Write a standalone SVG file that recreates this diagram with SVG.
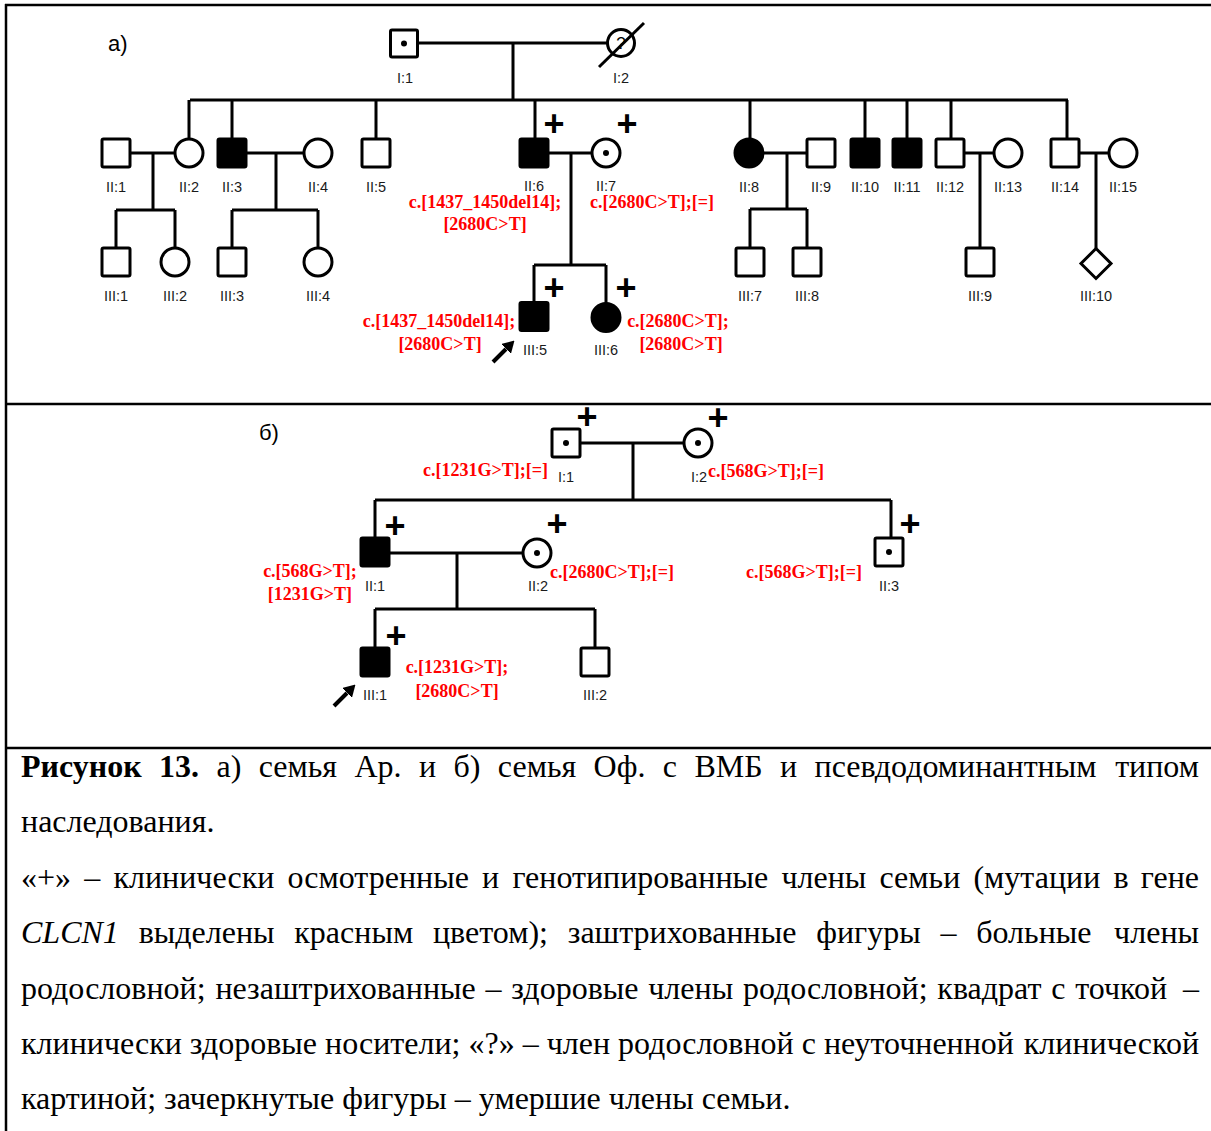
<svg xmlns="http://www.w3.org/2000/svg" width="1211" height="1131" viewBox="0 0 1211 1131">
<style>
.ln{stroke:#000;stroke-width:3;fill:none}
.sq,.ci{fill:#fff;stroke:#000;stroke-width:3}
.aff{fill:#000}
.dot{fill:#000;stroke:none}
.frame{stroke:#000;stroke-width:2.5}
.lbl{font-family:"Liberation Sans",Arial,sans-serif;font-size:14.5px;fill:#1a1a1a;text-anchor:middle}
.q{font-family:"Liberation Sans",Arial,sans-serif;font-size:17px;fill:#000;text-anchor:middle}
.mut{font-family:"Liberation Serif","Times New Roman",serif;font-size:18px;font-weight:bold;fill:#f00}
.mid{text-anchor:middle}
.plus{font-family:"Liberation Sans",Arial,sans-serif;font-size:36px;font-weight:bold;fill:#000;text-anchor:middle}
.sec{font-family:"Liberation Sans",Arial,sans-serif;font-size:22px;fill:#000}
.cap{font-family:"Liberation Serif","Times New Roman",serif;font-size:32px;fill:#000}
.arrow{stroke:#000;stroke-width:4;fill:none}
</style>
<defs>
<marker id="head" viewBox="0 -7 12 14" refX="0" refY="0" markerWidth="12" markerHeight="14" markerUnits="userSpaceOnUse" orient="auto"><path d="M0,-7 L12,0 L0,7 z" fill="#000"/></marker>
</defs>
<rect x="0" y="0" width="1211" height="1131" fill="#fff"/>
<g id="frame">
<line class="frame" x1="5" y1="5" x2="1211" y2="5"/>
<line class="frame" x1="6" y1="4" x2="6" y2="1131"/>
<line class="frame" x1="5" y1="404" x2="1211" y2="404"/>
<line class="frame" x1="5" y1="748" x2="1211" y2="748"/>
</g>
<text class="sec" x="108" y="51">а)</text>
<text class="sec" x="259" y="440">б)</text>

<g id="connectors">
<path class="ln" d="M418,43H607M513,43V100M190,100H1068"/>
<path class="ln" d="M189,100V139.5M232,100V139M376,100V139M535,100V139M750,100V139.5M865,100V139M907,100V139M951,100V139M1067,100V139"/>
<path class="ln" d="M130,153H175.5M153,153V210M116,210H175M116,210V248M175,210V248.5"/>
<path class="ln" d="M246,153H304.5M276,153V210M232,210H318M232,210V248M318,210V248.5"/>
<path class="ln" d="M548,153H592.5M571,153V265M534,265H606M534,265V302.5M606,265V303.5"/>
<path class="ln" d="M762.5,153H807M787,153V209M750,209H807M750,209V248M807,209V248"/>
<path class="ln" d="M964,153H994.5M980,153V248"/>
<path class="ln" d="M1079,153H1109.5M1096,153V248"/>
<path class="ln" d="M580,443H684.5M633,443V500M375,500H891M375,500V538M891,500V538"/>
<path class="ln" d="M389,553H523.5M457,553V609M375,609H595M375,609V648M595,609V648"/>
</g>

<g id="a-I1"><rect class="sq" x="390.5" y="30" width="27" height="27" rx="1.5"/><circle class="dot" cx="404" cy="43.5" r="3"/><text class="lbl" x="405" y="83">I:1</text></g>
<g id="a-I2"><circle class="ci" cx="621" cy="43" r="13.5"/><text class="q" x="621" y="49">?</text><line class="ln" x1="599" y1="67" x2="644" y2="23"/><text class="lbl" x="621" y="83">I:2</text></g>

<g id="a-II1"><rect class="sq" x="102" y="139" width="28" height="28" rx="1.5"/><text class="lbl" x="116" y="192">II:1</text></g>
<g id="a-II2"><circle class="ci" cx="189" cy="153" r="14"/><text class="lbl" x="189" y="192">II:2</text></g>
<g id="a-II3"><rect class="sq aff" x="218" y="139" width="28" height="28" rx="1.5"/><text class="lbl" x="232" y="192">II:3</text></g>
<g id="a-II4"><circle class="ci" cx="318" cy="153" r="14"/><text class="lbl" x="318" y="192">II:4</text></g>
<g id="a-II5"><rect class="sq" x="362" y="139" width="28" height="28" rx="1.5"/><text class="lbl" x="376" y="192">II:5</text></g>
<g id="a-II6"><rect class="sq aff" x="520" y="139" width="28" height="28" rx="1.5"/><text class="lbl" x="534" y="191">II:6</text><text class="plus" x="554" y="136">+</text>
<text class="mut mid" x="485" y="208">c.[1437_1450del14];</text><text class="mut mid" x="485" y="230">[2680C&gt;T]</text></g>
<g id="a-II7"><circle class="ci" cx="606" cy="153" r="14"/><circle class="dot" cx="606" cy="153" r="3"/><text class="lbl" x="606" y="191">II:7</text><text class="plus" x="627" y="136">+</text>
<text class="mut" x="590" y="208">c.[2680C&gt;T];[=]</text></g>
<g id="a-II8"><circle class="ci aff" cx="749" cy="153" r="14"/><text class="lbl" x="749" y="192">II:8</text></g>
<g id="a-II9"><rect class="sq" x="807" y="139" width="28" height="28" rx="1.5"/><text class="lbl" x="821" y="192">II:9</text></g>
<g id="a-II10"><rect class="sq aff" x="851" y="139" width="28" height="28" rx="1.5"/><text class="lbl" x="865" y="192">II:10</text></g>
<g id="a-II11"><rect class="sq aff" x="893" y="139" width="28" height="28" rx="1.5"/><text class="lbl" x="907" y="192">II:11</text></g>
<g id="a-II12"><rect class="sq" x="936" y="139" width="28" height="28" rx="1.5"/><text class="lbl" x="950" y="192">II:12</text></g>
<g id="a-II13"><circle class="ci" cx="1008" cy="153" r="14"/><text class="lbl" x="1008" y="192">II:13</text></g>
<g id="a-II14"><rect class="sq" x="1051" y="139" width="28" height="28" rx="1.5"/><text class="lbl" x="1065" y="192">II:14</text></g>
<g id="a-II15"><circle class="ci" cx="1123" cy="153" r="14"/><text class="lbl" x="1123" y="192">II:15</text></g>

<g id="a-III1"><rect class="sq" x="102" y="248" width="28" height="28" rx="1.5"/><text class="lbl" x="116" y="301">III:1</text></g>
<g id="a-III2"><circle class="ci" cx="175" cy="262" r="14"/><text class="lbl" x="175" y="301">III:2</text></g>
<g id="a-III3"><rect class="sq" x="218" y="248" width="28" height="28" rx="1.5"/><text class="lbl" x="232" y="301">III:3</text></g>
<g id="a-III4"><circle class="ci" cx="318" cy="262" r="14"/><text class="lbl" x="318" y="301">III:4</text></g>
<g id="a-III5"><rect class="sq aff" x="520" y="302.5" width="28" height="28" rx="1.5"/><text class="lbl" x="535" y="355">III:5</text><text class="plus" x="554" y="300">+</text>
<text class="mut mid" x="439" y="327">c.[1437_1450del14];</text><text class="mut mid" x="440" y="350">[2680C&gt;T]</text>
<line class="arrow" x1="493" y1="362" x2="506" y2="349" marker-end="url(#head)"/></g>
<g id="a-III6"><circle class="ci aff" cx="606" cy="317.5" r="14"/><text class="lbl" x="606" y="355">III:6</text><text class="plus" x="626" y="300">+</text>
<text class="mut mid" x="678" y="327">c.[2680C&gt;T];</text><text class="mut mid" x="681" y="350">[2680C&gt;T]</text></g>
<g id="a-III7"><rect class="sq" x="736" y="248" width="28" height="28" rx="1.5"/><text class="lbl" x="750" y="301">III:7</text></g>
<g id="a-III8"><rect class="sq" x="793" y="248" width="28" height="28" rx="1.5"/><text class="lbl" x="807" y="301">III:8</text></g>
<g id="a-III9"><rect class="sq" x="966" y="248" width="28" height="28" rx="1.5"/><text class="lbl" x="980" y="301">III:9</text></g>
<g id="a-III10"><polygon class="sq" points="1096,248.5 1111,263.5 1096,278.5 1081,263.5"/><text class="lbl" x="1096" y="301">III:10</text></g>

<g id="b-I1"><rect class="sq" x="552" y="429" width="28" height="28" rx="1.5"/><circle class="dot" cx="566" cy="443" r="3"/><text class="lbl" x="566" y="482">I:1</text><text class="plus" x="587" y="429">+</text>
<text class="mut" x="423" y="476">c.[1231G&gt;T];[=]</text></g>
<g id="b-I2"><circle class="ci" cx="698" cy="443" r="14"/><circle class="dot" cx="698" cy="443" r="3"/><text class="lbl" x="699" y="482">I:2</text><text class="plus" x="718" y="430">+</text>
<text class="mut" x="708" y="477">c.[568G&gt;T];[=]</text></g>
<g id="b-II1"><rect class="sq aff" x="361" y="538" width="28" height="28" rx="1.5"/><text class="lbl" x="375" y="591">II:1</text><text class="plus" x="395" y="538">+</text>
<text class="mut mid" x="310" y="577">c.[568G&gt;T];</text><text class="mut mid" x="310" y="600">[1231G&gt;T]</text></g>
<g id="b-II2"><circle class="ci" cx="537" cy="553" r="14"/><circle class="dot" cx="537" cy="553" r="3"/><text class="lbl" x="538" y="591">II:2</text><text class="plus" x="557" y="536">+</text>
<text class="mut" x="550" y="578">c.[2680C&gt;T];[=]</text></g>
<g id="b-II3"><rect class="sq" x="875" y="538" width="28" height="28" rx="1.5"/><circle class="dot" cx="889" cy="552" r="3"/><text class="lbl" x="889" y="591">II:3</text><text class="plus" x="910" y="536">+</text>
<text class="mut" x="746" y="578">c.[568G&gt;T];[=]</text></g>
<g id="b-III1"><rect class="sq aff" x="361" y="648" width="28" height="28" rx="1.5"/><text class="lbl" x="375" y="700">III:1</text><text class="plus" x="396" y="648">+</text>
<text class="mut mid" x="457" y="673">c.[1231G&gt;T];</text><text class="mut mid" x="457" y="697">[2680C&gt;T]</text>
<line class="arrow" x1="334" y1="706" x2="347" y2="693" marker-end="url(#head)"/></g>
<g id="b-III2"><rect class="sq" x="581" y="648" width="28" height="28" rx="1.5"/><text class="lbl" x="595" y="700">III:2</text></g>

<g id="caption">
<text class="cap" x="21" y="777" word-spacing="9.4"><tspan font-weight="bold">Рисунок 13.</tspan> а) семья Ар. и б) семья Оф. с ВМБ и псевдодоминантным</text>
<text class="cap" x="1199" y="777" text-anchor="end">типом</text>
<text class="cap" x="21" y="832">наследования.</text>
<text class="cap" x="21" y="888" word-spacing="5.2">«+» – клинически осмотренные и генотипированные члены семьи (мутации в</text>
<text class="cap" x="1199" y="888" text-anchor="end">гене</text>
<text class="cap" x="21" y="943" word-spacing="11.8"><tspan font-style="italic">CLCN1</tspan> выделены красным цветом); заштрихованные фигуры – больные</text>
<text class="cap" x="1199" y="943" text-anchor="end">члены</text>
<text class="cap" x="21" y="999" word-spacing="1.8">родословной; незаштрихованные – здоровые члены родословной; квадрат с точкой</text>
<text class="cap" x="1199" y="999" text-anchor="end">–</text>
<text class="cap" x="21" y="1054">клинически здоровые носители; «?» – член родословной с неуточненной</text>
<text class="cap" x="1199" y="1054" text-anchor="end">клинической</text>
<text class="cap" x="21" y="1109">картиной; зачеркнутые фигуры – умершие члены семьи.</text>
</g>
</svg>
